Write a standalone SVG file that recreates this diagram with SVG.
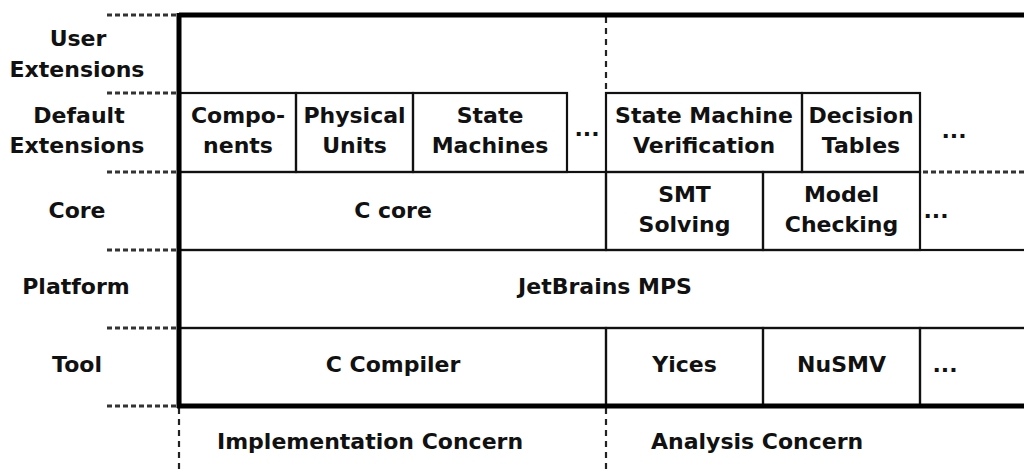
<svg xmlns="http://www.w3.org/2000/svg" width="1024" height="473" viewBox="0 0 1024 473">
<style>
text{font-family:"DejaVu Sans",Verdana,sans-serif;font-weight:bold;font-size:22px;fill:#111;text-anchor:middle}
.box{fill:none;stroke:#111;stroke-width:2.2}
.thin{stroke:#111;stroke-width:2.2;fill:none}
.thick{stroke:#000;stroke-width:5;fill:none}
.dot{stroke:#333;stroke-width:3;stroke-dasharray:5 3;fill:none}
.vdash{stroke:#222;stroke-width:2.2;stroke-dasharray:6 5;fill:none}
.start{text-anchor:start}
</style>
<rect width="1024" height="473" fill="#fff"/>
<g id="connectors">
<path class="dot" d="M107 15H176M107 93H176M107 172H176M107 250H176M107 328H176M107 406H176"/>
<path class="dot" d="M923 172H1024"/>
<path class="vdash" d="M606 17V92M606 408V473M179 408V473"/>
<path class="thin" d="M920 250H1024M920 328H1024"/>
</g>
<g id="layer-labels">
<text x="78" y="46">User</text>
<text x="77" y="77">Extensions</text>
<text x="79" y="123">Default</text>
<text x="77" y="153">Extensions</text>
<text x="77" y="218">Core</text>
<text x="76" y="294">Platform</text>
<text x="77" y="372">Tool</text>
</g>
<g id="components"><rect class="box" x="180" y="93" width="116" height="79"/><text x="238" y="123">Compo-</text><text x="238" y="153">nents</text></g>
<g id="physical-units"><rect class="box" x="296" y="93" width="117" height="79"/><text x="354.5" y="123">Physical</text><text x="354.5" y="153">Units</text></g>
<g id="state-machines"><rect class="box" x="413" y="93" width="154" height="79"/><text x="490" y="123">State</text><text x="490" y="153">Machines</text></g>
<g id="ellipsis-ext-impl"><text x="587" y="136">...</text></g>
<g id="sm-verification"><rect class="box" x="606" y="93" width="196" height="79"/><text x="704" y="123">State Machine</text><text x="704" y="153">Verification</text></g>
<g id="decision-tables"><rect class="box" x="802" y="93" width="118" height="79"/><text x="861" y="123">Decision</text><text x="861" y="153">Tables</text></g>
<g id="ellipsis-ext-ana"><text x="954" y="138">...</text></g>
<g id="c-core"><rect class="box" x="180" y="172" width="426" height="78"/><text x="393" y="218">C core</text></g>
<g id="smt-solving"><rect class="box" x="606" y="172" width="157" height="78"/><text x="684.5" y="202">SMT</text><text x="684.5" y="232">Solving</text></g>
<g id="model-checking"><rect class="box" x="763" y="172" width="157" height="78"/><text x="841.5" y="202">Model</text><text x="841.5" y="232">Checking</text></g>
<g id="ellipsis-core"><text x="936" y="218">...</text></g>
<g id="jetbrains-mps"><rect class="box" x="180" y="250" width="850" height="78"/><text x="605" y="294">JetBrains MPS</text></g>
<g id="c-compiler"><rect class="box" x="180" y="328" width="426" height="78"/><text x="393" y="372">C Compiler</text></g>
<g id="yices"><rect class="box" x="606" y="328" width="157" height="78"/><text x="684.5" y="372">Yices</text></g>
<g id="nusmv"><rect class="box" x="763" y="328" width="157" height="78"/><text x="841.5" y="372">NuSMV</text></g>
<g id="ellipsis-tool"><rect class="box" x="920" y="328" width="110" height="78"/><text x="945" y="372">...</text></g>
<g id="frame">
<path class="thick" d="M179 15H1024M179 13V408M177 406H1024"/>
</g>
<g id="concerns">
<text class="start" x="217" y="449">Implementation Concern</text>
<text class="start" x="651" y="449">Analysis Concern</text>
</g>
</svg>
